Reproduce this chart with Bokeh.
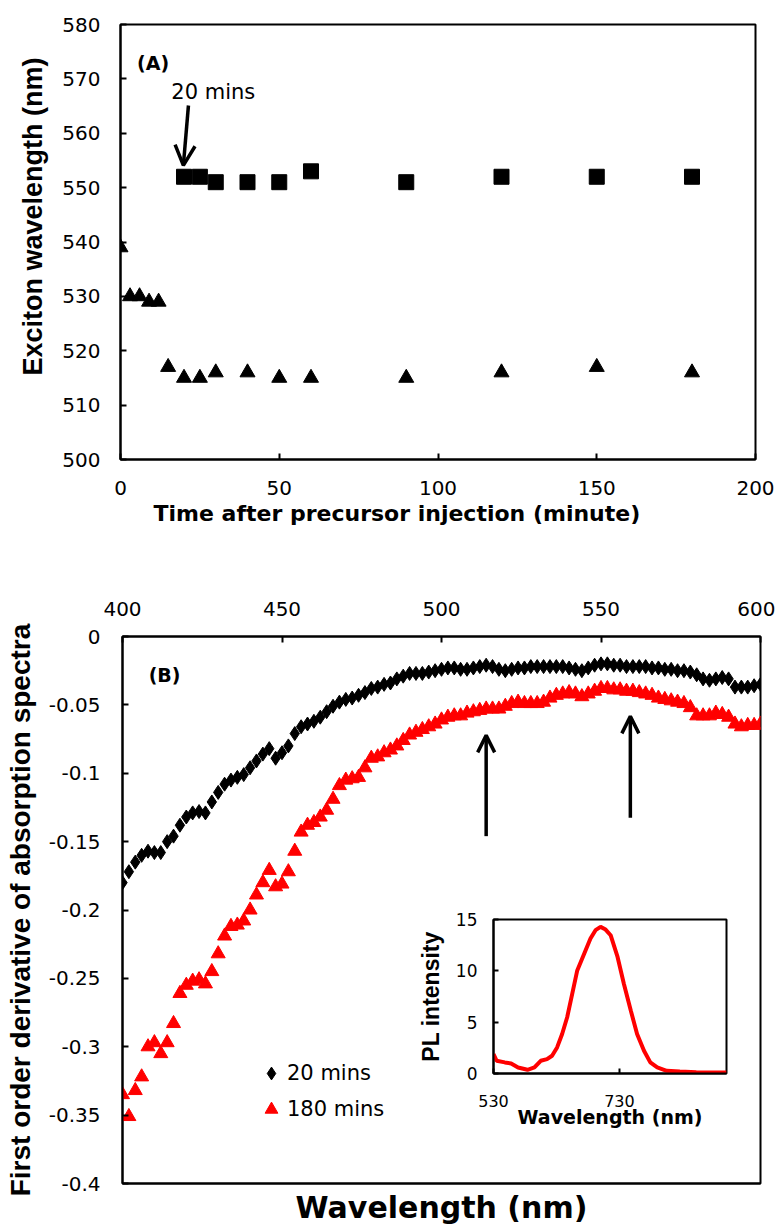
from bokeh.plotting import figure
from bokeh.models import (Range1d, FixedTicker, LinearAxis, Label, Arrow, OpenHead, Title,
                          CustomJSTickFormatter, Legend, LegendItem)
from bokeh.embed import file_html
from bokeh.resources import INLINE

# ---------------- Panel A data ----------------
time_squares = [20, 25, 30, 40, 50, 60, 90, 120, 150, 180]
exciton_squares = [552, 552, 551, 551, 551, 553, 551, 552, 552, 552]
time_triangles = [0, 3, 6, 9, 12, 15, 20, 25, 30, 40, 50, 60, 90, 120, 150, 180]
exciton_triangles = [539, 530, 530, 529, 529, 517, 515, 515, 516, 516, 515, 515, 515, 516, 517, 516]
xticks_A = [0, 50, 100, 150, 200]
yticks_A = [500, 510, 520, 530, 540, 550, 560, 570, 580]
arrow_A = [21.4, 565.1, 19.8, 554.1]          # x_start, y_start, x_end, y_end
label_A_pos = [5.2, 572.9]
note_A_pos = [16.0, 567.5]

# ---------------- Panel B data ----------------
wavelength_B = list(range(400, 601, 2))
deriv_20min = [
    -0.180, -0.172, -0.165, -0.160, -0.157, -0.158, -0.158, -0.150, -0.146, -0.138,
    -0.132, -0.129, -0.128, -0.129, -0.121, -0.114, -0.108, -0.105, -0.103, -0.101,
    -0.096, -0.091, -0.086, -0.082, -0.089, -0.085, -0.080, -0.071, -0.066, -0.064,
    -0.062, -0.059, -0.055, -0.051, -0.048, -0.046, -0.045, -0.043, -0.041, -0.038,
    -0.037, -0.035, -0.034, -0.031, -0.029, -0.027, -0.027, -0.027, -0.026, -0.025,
    -0.024, -0.023, -0.023, -0.024, -0.024, -0.023, -0.022, -0.021, -0.022, -0.024,
    -0.025, -0.024, -0.023, -0.023, -0.022, -0.022, -0.022, -0.022, -0.022, -0.022,
    -0.023, -0.024, -0.025, -0.023, -0.021, -0.020, -0.020, -0.021, -0.021, -0.022,
    -0.022, -0.022, -0.022, -0.023, -0.023, -0.024, -0.024, -0.025, -0.025, -0.026,
    -0.028, -0.031, -0.032, -0.031, -0.030, -0.031, -0.037, -0.037, -0.037, -0.036,
    -0.035]
deriv_180min = [
    -0.335, -0.351, -0.332, -0.322, -0.300, -0.297, -0.305, -0.297, -0.283, -0.261,
    -0.255, -0.252, -0.251, -0.254, -0.245, -0.232, -0.219, -0.212, -0.211, -0.208,
    -0.200, -0.189, -0.180, -0.171, -0.183, -0.181, -0.172, -0.157, -0.143, -0.138,
    -0.136, -0.132, -0.127, -0.119, -0.109, -0.105, -0.104, -0.103, -0.096, -0.089,
    -0.088, -0.085, -0.083, -0.080, -0.076, -0.072, -0.070, -0.068, -0.066, -0.064,
    -0.061, -0.059, -0.058, -0.058, -0.056, -0.055, -0.054, -0.053, -0.053, -0.053,
    -0.051, -0.049, -0.048, -0.049, -0.049, -0.049, -0.048, -0.045, -0.043, -0.042,
    -0.041, -0.042, -0.044, -0.042, -0.040, -0.038, -0.038, -0.039, -0.039, -0.040,
    -0.040, -0.041, -0.042, -0.043, -0.045, -0.046, -0.047, -0.048, -0.049, -0.052,
    -0.058, -0.058, -0.058, -0.056, -0.057, -0.059, -0.064, -0.066, -0.065, -0.065,
    -0.064]
xticks_B = [400, 450, 500, 550, 600]
yticks_B = [0, -0.05, -0.1, -0.15, -0.2, -0.25, -0.3, -0.35, -0.4]
arrows_B = [[514.0, -0.146, 514.0, -0.0723], [559.2, -0.1326, 559.2, -0.0584]]
label_B_pos = [408.2, -0.0285]

# ---------------- Inset data ----------------
pl_wavelength = [530, 535, 548, 558, 569, 584, 595, 605, 615, 623, 631, 639, 647, 655,
                 663, 674, 684, 692, 700, 708, 716, 727, 737, 748, 758, 769, 779, 790,
                 805, 826, 852, 878, 900]
pl_intensity = [1.9, 1.24, 1.08, 0.98, 0.59, 0.36, 0.59, 1.24, 1.4, 1.73, 2.54, 3.85,
                5.48, 7.76, 10.04, 11.67, 13.14, 13.96, 14.28, 14.02, 13.47, 11.35, 8.74,
                6.13, 3.85, 2.22, 1.08, 0.59, 0.26, 0.2, 0.13, 0.1, 0.1]
xticks_inset = [530, 730]
yticks_inset = [0, 5, 10, 15]

TICK_FONT = "DejaVu Sans"
BOLD_H = "DejaVu Sans"
BOLD_V = "Liberation Sans"


def style_axis(ax, size="20px"):
    ax.axis_line_width = 2
    ax.axis_line_color = "black"
    ax.major_tick_in = 6
    ax.major_tick_out = 0
    ax.major_tick_line_width = 2
    ax.major_tick_line_color = "black"
    ax.minor_tick_line_color = None
    ax.major_label_text_font = TICK_FONT
    ax.major_label_text_font_size = size
    ax.major_label_text_color = "black"
    ax.axis_label_text_color = "black"
    ax.axis_label_text_font_style = "bold"


def base_fig(left, top, **kw):
    p = figure(output_backend="svg", toolbar_location=None, **kw)
    p.xgrid.visible = False
    p.ygrid.visible = False
    p.outline_line_color = "black"
    p.outline_line_width = 2
    p.outline_line_alpha = 1
    p.background_fill_color = "white"
    p.border_fill_color = "white"
    p.styles = {"position": "absolute", "left": f"{left}px", "top": f"{top}px"}
    return p


# ================= Panel A =================
pA = base_fig(0, 0, width=775, height=535, x_range=Range1d(0, 200), y_range=Range1d(500, 580),
              min_border_left=120, min_border_right=20, min_border_top=24, min_border_bottom=76)
pA.scatter(time_squares, exciton_squares, marker="square", size=15,
           fill_color="black", line_color="black")
pA.scatter(time_triangles, exciton_triangles, marker="triangle", size=15,
           fill_color="black", line_color="black")
ax = pA.xaxis[0]
style_axis(ax)
ax.ticker = FixedTicker(ticks=xticks_A)
ax.major_label_standoff = 21
ay = pA.yaxis[0]
style_axis(ay)
ay.ticker = FixedTicker(ticks=yticks_A)
ay.major_label_standoff = 20

pA.add_layout(Title(text="Time after precursor injection (minute)", align="left", offset=33,
                    standoff=2, text_font=BOLD_H, text_font_style="bold",
                    text_font_size="22px", text_color="black"), "below")
pA.add_layout(Title(text="Exciton wavelength (nm)", align="left", offset=84,
                    standoff=23, text_font=BOLD_V, text_font_style="bold",
                    text_font_size="27px", text_color="black"), "left")
pA.add_layout(Arrow(end=OpenHead(size=20, line_width=3.5, line_color="black"),
                    x_start=arrow_A[0], y_start=arrow_A[1], x_end=arrow_A[2], y_end=arrow_A[3],
                    line_width=3.5, line_color="black"))
pA.add_layout(Label(x=label_A_pos[0], y=label_A_pos[1], text="(A)", text_font=BOLD_H,
                    text_font_style="bold", text_font_size="19px", text_baseline="middle",
                    text_color="black"))
pA.add_layout(Label(x=note_A_pos[0], y=note_A_pos[1], text="20 mins", text_font=TICK_FONT,
                    text_font_size="21px", text_baseline="middle", text_color="black"))

# ================= Panel B =================
pB = base_fig(0, 540, width=775, height=687, x_range=Range1d(400, 600), y_range=Range1d(-0.4, 0),
              x_axis_location="above",
              min_border_left=122, min_border_right=15, min_border_top=96, min_border_bottom=43)
r20 = pB.scatter(wavelength_B, deriv_20min, marker="diamond", size=14,
                 fill_color="black", line_color="black")
r180 = pB.scatter(wavelength_B, deriv_180min, marker="triangle", size=14,
                  fill_color="red", line_color="red")
bx = pB.xaxis[0]
style_axis(bx)
bx.ticker = FixedTicker(ticks=xticks_B)
bx.major_label_standoff = 21
by = pB.yaxis[0]
style_axis(by)
by.ticker = FixedTicker(ticks=yticks_B)
by.formatter = CustomJSTickFormatter(code="return String(Math.round(tick*100)/100);")
by.major_label_standoff = 22
by.axis_label = "First order derivative of absorption spectra"
by.axis_label_text_font = BOLD_V
by.axis_label_text_font_size = "28px"
by.axis_label_standoff = 10
bottom = LinearAxis(ticker=FixedTicker(ticks=[]), axis_label="Wavelength (nm)")
style_axis(bottom)
bottom.major_tick_in = 0
bottom.axis_label_text_font = BOLD_H
bottom.axis_label_text_font_size = "30px"
bottom.axis_label_standoff = 6
pB.add_layout(bottom, "below")

for a in arrows_B:
    pB.add_layout(Arrow(end=OpenHead(size=17, line_width=3.5, line_color="black"),
                        x_start=a[0], y_start=a[1], x_end=a[2], y_end=a[3],
                        line_width=3.5, line_color="black"))
pB.add_layout(Label(x=label_B_pos[0], y=label_B_pos[1], text="(B)", text_font=BOLD_H,
                    text_font_style="bold", text_font_size="19px", text_baseline="middle",
                    text_color="black"))

legend = Legend(items=[LegendItem(label="20 mins", renderers=[r20]),
                       LegendItem(label="180 mins", renderers=[r180])],
                location=(133, 58), border_line_color=None, background_fill_alpha=0,
                padding=0, margin=0, spacing=4, glyph_width=32, glyph_height=32,
                label_height=20, label_standoff=-4, label_text_font=TICK_FONT,
                label_text_font_size="21px", label_text_color="black")
pB.add_layout(legend)

# ================= Inset =================
pI = base_fig(414, 905, width=322, height=230, x_range=Range1d(530, 900), y_range=Range1d(0, 15),
              min_border_left=74, min_border_right=10, min_border_top=14, min_border_bottom=62)
pI.border_fill_color = None
pI.line(pl_wavelength, pl_intensity, line_color="red", line_width=4)
ix = pI.xaxis[0]
style_axis(ix, "16px")
ix.major_tick_in = 5
ix.ticker = FixedTicker(ticks=xticks_inset)
ix.major_label_standoff = 21
ix.axis_label = "Wavelength (nm)"
ix.axis_label_text_font = BOLD_H
ix.axis_label_text_font_size = "19px"
ix.axis_label_standoff = -4
iy = pI.yaxis[0]
style_axis(iy, "17px")
iy.major_tick_in = 5
iy.ticker = FixedTicker(ticks=yticks_inset)
iy.major_label_standoff = 16
iy.axis_label = "PL intensity"
iy.axis_label_text_font = BOLD_V
iy.axis_label_text_font_size = "23px"
iy.axis_label_standoff = 9

open("out.html", "w").write(file_html([pA, pB, pI], INLINE))
